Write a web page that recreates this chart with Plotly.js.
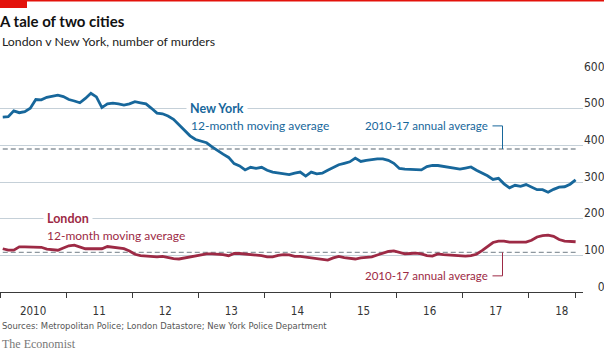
<!DOCTYPE html>
<html>
<head>
<meta charset="utf-8">
<script src="https://cdn.plot.ly/plotly-3.0.1.min.js"></script>
<style>
html,body{margin:0;padding:0;background:#fff;}
#chart{width:604px;height:357px;}
</style>
</head>
<body>
<div id="chart"></div>
<script>
// ---- Data (12-month moving average of murders, monthly Jan 2010 - Sep 2018) ----
const startYear = 2010;
const newYork = [477,478,494,489,492,501,525,524,531,535,537,533,
  525,521,516,528,542,532,503,513,515,513,510,513,
  519,516,513,501,488,486,480,471,456,441,426,416,
  412,407,396,385,376,367,350,344,333,340,337,340,
  332,327,325,323,320,324,327,316,327,322,324,332,
  340,347,351,355,365,356,359,362,363,363,359,351,
  337,335,335,335,333,342,345,345,343,339,338,335,
  338,341,332,325,317,307,310,295,284,291,288,293,
  287,279,279,272,280,286,287,294,306];
const london = [118,114,114,123,123,123,123,122,117,115,114,120,
  126,128,123,118,118,117,118,124,122,121,118,112,
  103,99,98,95,96,97,93,91,90,93,95,99,
  103,104,104,104,102,99,105,105,104,103,101,99,
  96,96,100,102,101,97,97,95,94,92,90,87,
  93,97,94,91,90,93,95,96,101,106,111,112,
  108,104,105,106,104,99,98,104,102,101,100,98,
  98,99,103,113,124,135,139,139,136,136,136,136,
  141,150,154,155,152,143,139,137,137];
const nyAverage = 390;      // 2010-17 annual average
const londonAverage = 108;  // 2010-17 annual average
const yearLabels = ["2010","11","12","13","14","15","16","17","18"];
const yTickVals = [0,100,200,300,400,500,600];
const yTickText = ["\u2007\u20070","100","200","300","400","500","600"];

// month index -> decimal year (mid-month)
const monthX = (arr) => arr.map((_, i) => startYear + (i + 0.5) / 12);
const nyX = monthX(newYork);
const lnX = monthX(london);
const xFirst = nyX[0], xLast = nyX[nyX.length - 1];

// ---- Style ----
const BLUE = "#17679b";
const MAROON = "#9d2a45";
const RED = "#E3120B";
const GRID = "#c5d0d8";
const DASH = "#8d979e";
const condensed = "'Liberation Sans Narrow', 'DejaVu Sans Condensed', 'Arial Narrow', sans-serif";
const sans = "Lato, 'Open Sans', sans-serif";

const W = 604, H = 357, ML = 0, MR = 21, MT = 72, MB = 65;
const plotW = W - ML - MR, plotH = H - MT - MB;
const pX = (px) => (px - ML) / plotW;
const pY = (py) => (H - MB - py) / plotH;

const traces = [
  {x: [xFirst, xLast], y: [nyAverage, nyAverage], mode: "lines",
   line: {color: DASH, width: 1.4, dash: "5px,3px"}, hoverinfo: "skip"},
  {x: [xFirst, xLast], y: [londonAverage, londonAverage], mode: "lines",
   line: {color: DASH, width: 1.4, dash: "5px,3px"}, hoverinfo: "skip"},
  {x: nyX, y: newYork, mode: "lines", name: "New York",
   line: {color: BLUE, width: 2.8, shape: "linear"}},
  {x: lnX, y: london, mode: "lines", name: "London",
   line: {color: MAROON, width: 2.8, shape: "linear"}}
];

const layout = {
  width: W, height: H,
  margin: {l: ML, r: MR, t: MT, b: MB, pad: 0},
  paper_bgcolor: "#fff", plot_bgcolor: "#fff",
  showlegend: false,
  title: {text: "A tale of two cities", x: 0, xref: "container", xanchor: "left",
          y: 1 - 22 / H, yref: "container", yanchor: "middle",
          font: {family: sans, size: 15, color: "#111", weight: 700}},
  xaxis: {
    range: [startYear, startYear + 583 / 66.1],
    tickmode: "array",
    tickvals: yearLabels.map((_, i) => startYear + i + 0.5),
    ticktext: yearLabels,
    ticks: "", ticklabelstandoff: 8,
    tickfont: {family: condensed, size: 11.5, color: "#333"},
    showgrid: false, zeroline: false,
    showline: true, linecolor: "#3a3a3a", linewidth: 1,
    minor: {tickmode: "array",
            tickvals: yearLabels.map((_, i) => startYear + i).concat([xLast]),
            ticks: "outside", ticklen: 5, tickcolor: "#3a3a3a", tickwidth: 1, showgrid: false},
    fixedrange: true
  },
  yaxis: {
    range: [0, 600], side: "right",
    tickmode: "array", tickvals: yTickVals, ticktext: yTickText,
    ticks: "", ticklabelposition: "outside top", ticklabelshift: 3,
    tickfont: {family: condensed, size: 12, color: "#333"},
    showgrid: true, gridcolor: GRID, gridwidth: 1,
    zeroline: false, showline: false, fixedrange: true
  },
  shapes: [
    {type: "rect", xref: "paper", yref: "paper", x0: pX(0), x1: pX(604), y0: pY(1.4), y1: pY(0),
     fillcolor: RED, line: {width: 0}, layer: "above"},
    {type: "rect", xref: "paper", yref: "paper", x0: pX(0), x1: pX(27), y0: pY(8), y1: pY(0),
     fillcolor: RED, line: {width: 0}, layer: "above"},
    {type: "path", xref: "x", yref: "y",
     path: `M${startYear + 492.5/66.1},453 L${startYear + 502.5/66.1},453 L${startYear + 502.5/66.1},${nyAverage}`,
     line: {color: BLUE, width: 1}},
    {type: "path", xref: "x", yref: "y",
     path: `M${startYear + 492.5/66.1},44 L${startYear + 502.5/66.1},44 L${startYear + 502.5/66.1},${londonAverage}`,
     line: {color: MAROON, width: 1}}
  ],
  annotations: [
    {text: "London v New York, number of murders", xref: "paper", yref: "paper",
     x: pX(0), y: pY(42), xanchor: "left", yanchor: "middle", showarrow: false,
     font: {family: sans, size: 12.3, color: "#222"}},
    {text: "<b>New York</b>", xref: "x", yref: "y", x: startYear + 186/66.1, y: 500,
     xanchor: "left", yanchor: "middle", showarrow: false, bgcolor: "#fff", borderpad: 3,
     font: {family: sans, size: 12.5, color: BLUE}},
    {text: "12-month moving average", xref: "x", yref: "y", x: startYear + 189/66.1, y: 453,
     xanchor: "left", yanchor: "middle", showarrow: false,
     font: {family: sans, size: 12, color: BLUE}},
    {text: "2010-17 annual average", xref: "x", yref: "y", x: startYear + 490/66.1, y: 453,
     xanchor: "right", yanchor: "middle", showarrow: false,
     font: {family: sans, size: 11.5, color: BLUE}},
    {text: "<b>London</b>", xref: "x", yref: "y", x: startYear + 43/66.1, y: 200,
     xanchor: "left", yanchor: "middle", showarrow: false, bgcolor: "#fff", borderpad: 3,
     font: {family: sans, size: 12.5, color: MAROON}},
    {text: "12-month moving average", xref: "x", yref: "y", x: startYear + 45/66.1, y: 153,
     xanchor: "left", yanchor: "middle", showarrow: false,
     font: {family: sans, size: 12, color: MAROON}},
    {text: "2010-17 annual average", xref: "x", yref: "y", x: startYear + 490/66.1, y: 44,
     xanchor: "right", yanchor: "middle", showarrow: false,
     font: {family: sans, size: 11.5, color: MAROON}},
    {text: "Sources: Metropolitan Police; London Datastore; New York Police Department",
     xref: "paper", yref: "paper", x: pX(0), y: pY(325), xanchor: "left", yanchor: "middle",
     showarrow: false, font: {family: condensed, size: 9.4, color: "#555"}},
    {text: "The Economist", xref: "paper", yref: "paper", x: pX(0), y: pY(344),
     xanchor: "left", yanchor: "middle", showarrow: false,
     font: {family: "'Liberation Serif', 'DejaVu Serif', serif", size: 12, color: "#777"}}
  ]
};

Plotly.newPlot("chart", traces, layout, {displayModeBar: false, staticPlot: true});
</script>
</body>
</html>
